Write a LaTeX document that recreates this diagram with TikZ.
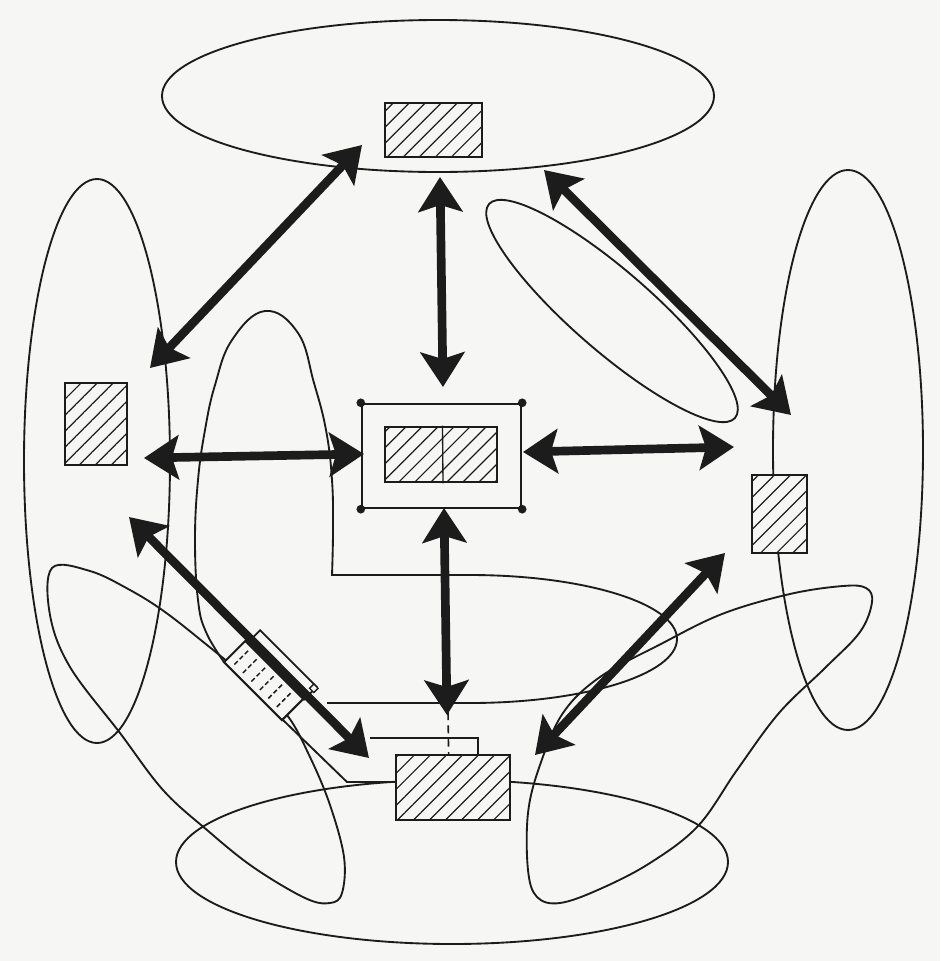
\documentclass[tikz,border=0pt]{standalone}
\usetikzlibrary{arrows.meta,patterns.meta,fit}
\definecolor{paper}{RGB}{246,246,245}
\definecolor{ink}{RGB}{28,28,28}
\tikzset{
  outline/.style={draw=ink, line width=1.4pt},
  hatchbox/.style={draw=ink, line width=2pt, inner sep=0pt,
    preaction={fill=paper},
    pattern={Lines[angle=45,distance=8.5pt,line width=0.9pt]}, pattern color=ink},
  framebox/.style={draw=ink, line width=1.8pt, inner sep=0pt, fill=paper},
  corner/.style={fill=ink, circle, inner sep=0pt, minimum size=6.5pt},
  headtip/.tip={Stealth[length=26pt,width=33pt,inset=5pt]},
  link/.style={draw=ink, line width=6.5pt, headtip-headtip},
}
\begin{document}
\begin{tikzpicture}[x=0.75pt,y=-0.75pt]
% paper
\path[fill=paper] (0,0) rectangle (940,961);

% ---- enclosing curves ----
\draw[outline] (438,96) ellipse [x radius=276, y radius=76];
\draw[outline] (97,461) ellipse [x radius=73, y radius=282];
\draw[outline] (848,450) ellipse [x radius=75, y radius=280];
\draw[outline, rotate around={-41:(612,311)}] (612,311) ellipse [x radius=163, y radius=40];
\draw[outline] (452,862) ellipse [x radius=276, y radius=82];

% lower-left loop
\draw[outline] plot[smooth cycle, tension=0.6] coordinates {
  (52,568) (90,571) (130,590) (165,612) (207,645) (253,683) (287,715)
  (310,757) (330,805) (344,857) (342,893) (330,903) (305,898) (253,867)
  (207,830) (163,790) (120,733) (70,667) (50,615)};

% lower-right loop
\draw[outline] plot[smooth cycle, tension=0.6] coordinates {
  (866,588) (872,602) (860,632) (825,668) (779,713) (737,770) (698,826)
  (650,863) (600,889) (560,903) (537,897) (528,870) (528,813) (540,765)
  (563,713) (600,677) (659,645) (722,614) (790,594) (843,586)};

% arch, running into the middle loop
\draw[outline] plot[smooth, tension=0.7] coordinates {
  (224,662) (206,632) (198,600) (195,540) (198,480) (205,430) (215,385)
  (232,340) (265,311) (298,333) (314,383) (326,430) (332,480) (333,530)
  (332,575)}
  -- (470,575) arc[start angle=-90, end angle=90, x radius=207, y radius=64]
  -- (327,703);

% feeder lines to the bottom box
\draw[outline] (283,720) -- (347,782) -- (396,782);
\draw[outline] (370,738) -- (478,738) -- (478,755);
\draw[ink, line width=1.2pt, dash pattern=on 6pt off 4pt] (448,712) -- (449,778);

% ---- boxes ----
\node[hatchbox, fit={(385,103)(482,157)}] (topbox) {};
\node[hatchbox, fit={(65,383)(127,465)}] (leftbox) {};
\node[hatchbox, fit={(752,475)(807,553)}] (rightbox) {};
\node[hatchbox, fit={(396,755)(510,820)}] (botbox) {};
\node[framebox, fit={(362,404)(521,508)}] (frame) {};
\node[hatchbox, fit={(385,427)(497,482)}] (core) {};
\draw[ink, line width=1pt] (core.north) ++(1.5,0) -- ([xshift=1.5]core.south);
\foreach \c in {north west, north east, south west, south east}
  \node[corner] (dot-\c) at (frame.\c) {};

% slanted piece on the lower-left link
\begin{scope}[shift={(270,660)}, rotate=-45]
  \draw[ink, line width=1.3pt, fill=paper] (-28,-14) rectangle (52,4);
  \draw[ink, line width=1.5pt, fill=paper] (-31,4) rectangle (51,34);
  \foreach \a in {-22,-10,2,14,26,38}
    \draw[ink, line width=1.1pt, dash pattern=on 3.5pt off 2pt] (\a,9) -- (\a,30);
  \draw[ink, line width=1pt, fill=paper] (48,-14) rectangle (54,-8);
\end{scope}

% ---- link end points ----
\coordinate (a1s) at (150,368);  \coordinate (a1e) at (362,145);
\coordinate (a2s) at (440,177);  \coordinate (a2e) at (443,387);
\coordinate (a3s) at (544,170);  \coordinate (a3e) at (791,415);
\coordinate (a4s) at (144,458);  \coordinate (a4e) at (364,454);
\coordinate (a5s) at (523,452);  \coordinate (a5e) at (734,447);
\coordinate (a6s) at (444,508);  \coordinate (a6e) at (447,715);
\coordinate (a7s) at (129,517);  \coordinate (a7e) at (369,758);
\coordinate (a8s) at (725,553);  \coordinate (a8e) at (535,755);

% ---- links ----
\foreach \k in {1,...,8}
  \draw[link] (a\k s) -- (a\k e);
\end{tikzpicture}
\end{document}
